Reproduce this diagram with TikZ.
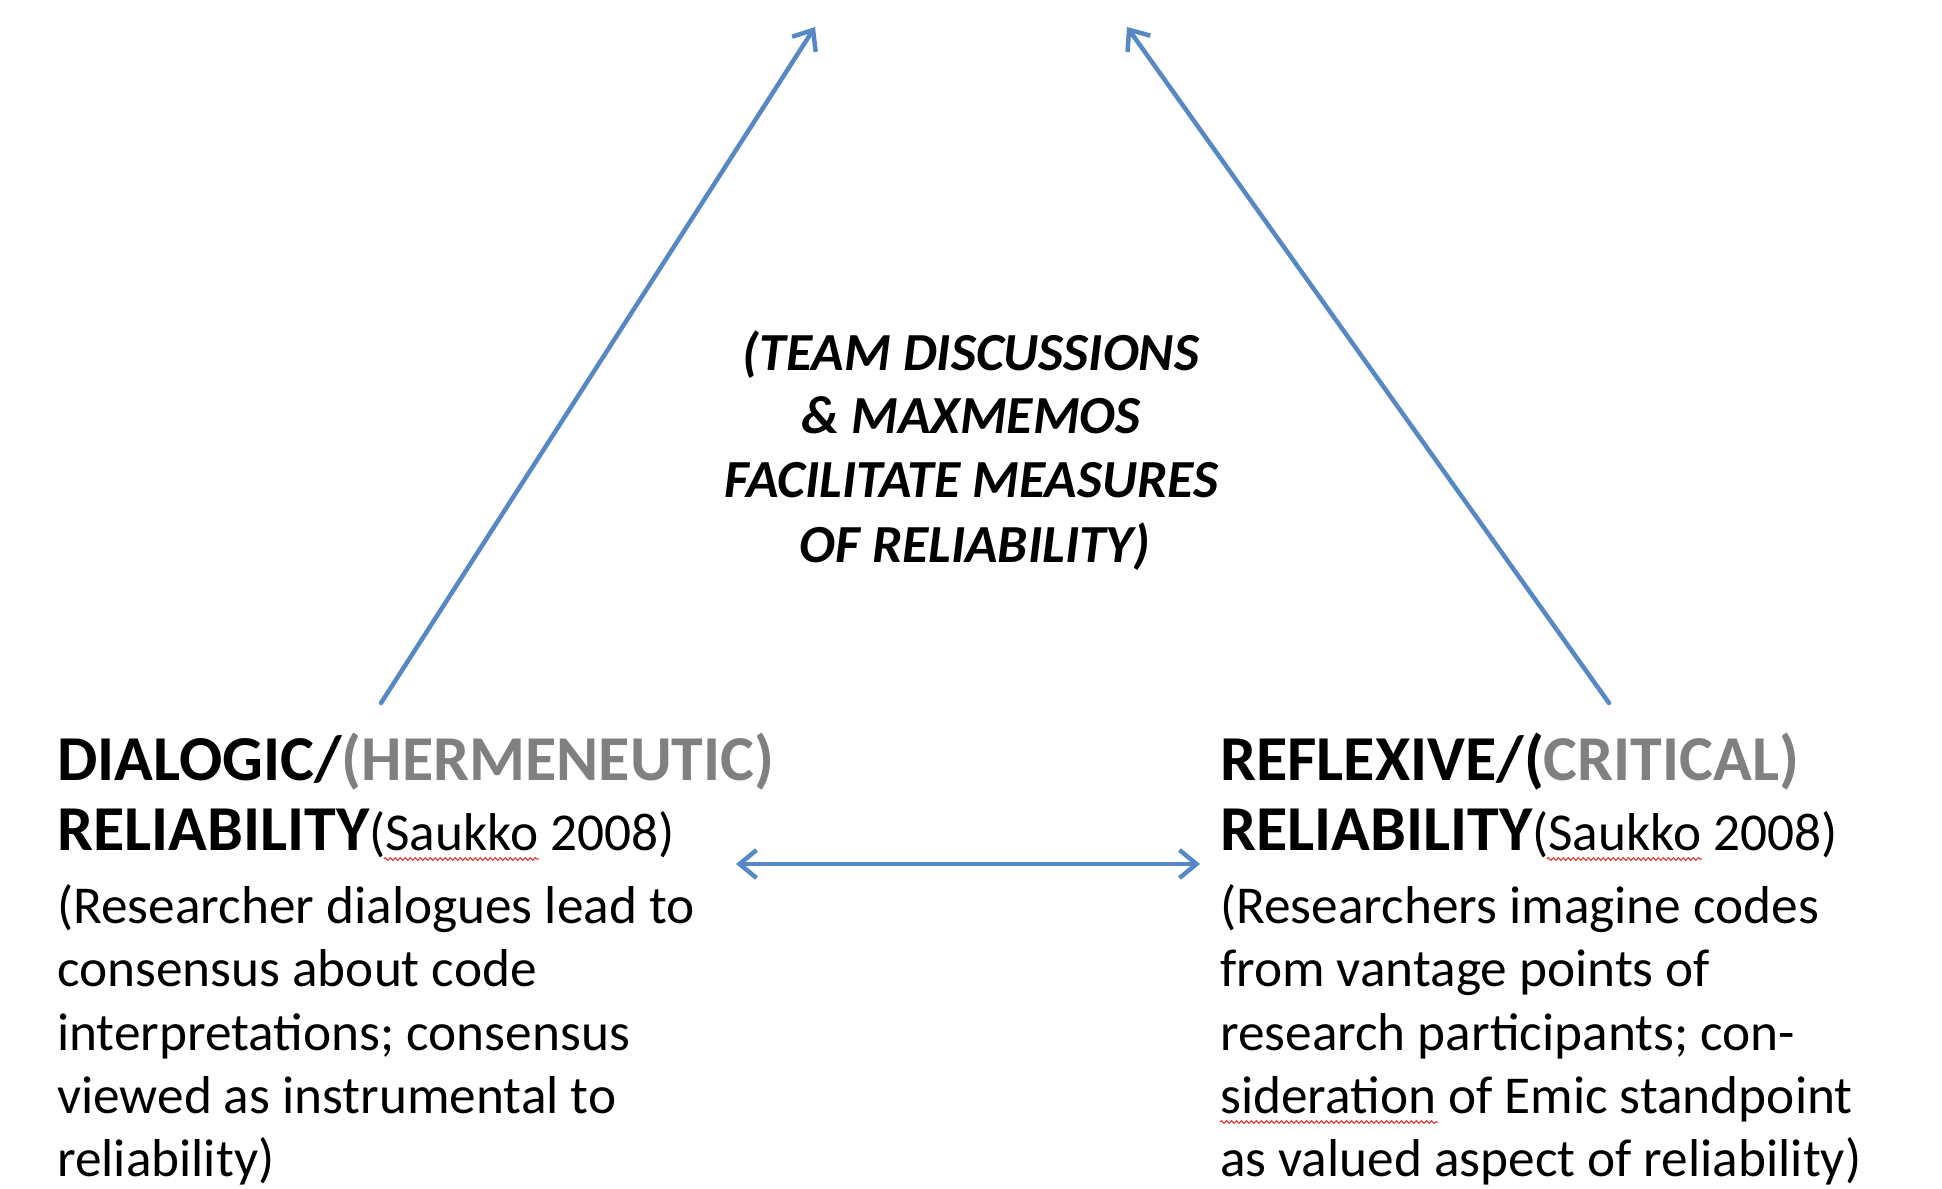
\documentclass[tikz,border=0pt]{standalone}
\usepackage{fontspec}
\setmainfont{Carlito}
\usetikzlibrary{arrows.meta,decorations.pathmorphing,calc}
\definecolor{arrowblue}{RGB}{86,137,196}
\definecolor{headgray}{RGB}{128,128,128}
\definecolor{squigred}{RGB}{230,60,60}
\begin{document}
\begin{tikzpicture}[x=1pt,y=-1pt,
  conn/.style={draw=arrowblue, line width=4.5pt, line cap=round,
    -{Straight Barb[length=17pt,width=28pt,line width=4.5pt]}},
  conn2/.style={draw=arrowblue, line width=4.5pt,
    {Straight Barb[length=17pt,width=28pt,line width=4.5pt]}-{Straight Barb[length=17pt,width=28pt,line width=4.5pt]}},
  headline/.style={anchor=base west, inner sep=0pt, font=\fontsize{64}{77}\selectfont\bfseries},
  bodyline/.style={anchor=base west, inner sep=0pt, font=\fontsize{53.3}{64}\selectfont},
  midline/.style={anchor=base, inner sep=0pt, font=\fontsize{53.6}{64}\selectfont\bfseries\itshape},
  squig/.style={draw=squigred, line width=1.2pt, decorate,
    decoration={snake, amplitude=1.3pt, segment length=5pt}}]
\useasboundingbox (0,0) rectangle (1942,1188);

% centre text
\node[midline] (c1) at (971,370) {(TEAM DISCUSSIONS};
\node[midline] (c2) at (971,433) {\& MAXMEMOS};
\node[midline] (c3) at (971,497) {FACILITATE MEASURES};
\node[midline] (c4) at (975,562) {OF RELIABILITY)};

% left block
\node[headline] (l1) at (57,780) {DIALOGIC/\textcolor{headgray}{(HERMENEUTIC)}};
\node[headline] (l2) at (57,850) {RELIABILITY{\mdseries\fontsize{53.3}{64}\selectfont(Saukko 2008)}};
\node[bodyline] (l3) at (57,923) {(Researcher dialogues lead to};
\node[bodyline] (l4) at (57,986) {consensus about code};
\node[bodyline] (l5) at (57,1050) {interpretations; consensus};
\node[bodyline] (l6) at (57,1113) {viewed as instrumental to};
\node[bodyline] (l7) at (57,1176) {reliability)};

% right block
\node[headline] (r1) at (1220,780) {REFLEXIVE/(\textcolor{headgray}{CRITICAL)}};
\node[headline] (r2) at (1220,850) {RELIABILITY{\mdseries\fontsize{53.3}{64}\selectfont(Saukko 2008)}};
\node[bodyline] (r3) at (1220,923) {(Researchers imagine codes};
\node[bodyline] (r4) at (1220,986) {from vantage points of};
\node[bodyline] (r5) at (1220,1050) {research participants; con-};
\node[bodyline] (r6) at (1220,1113) {sideration of Emic standpoint};
\node[bodyline] (r7) at (1220,1176) {as valued aspect of reliability)};

% spelling marks
\draw[squig] ($(l2.base east)+(-291,9)$) -- ($(l2.base east)+(-136,9)$);
\draw[squig] ($(r2.base east)+(-291,9)$) -- ($(r2.base east)+(-136,9)$);
\draw[squig] ($(r6.base west)+(0,9)$) -- ($(r6.base west)+(218,9)$);

% arrow ends
\coordinate (ls) at (381,703);
\coordinate (lt) at (815,27);
\coordinate (rs) at (1609,703);
\coordinate (rt) at (1127,27);
\coordinate (hl) at (736,864);
\coordinate (hr) at (1200,864);

\draw[conn] (ls) -- (lt);
\draw[conn] (rs) -- (rt);
\draw[conn2] (hl) -- (hr);
\end{tikzpicture}
\end{document}
